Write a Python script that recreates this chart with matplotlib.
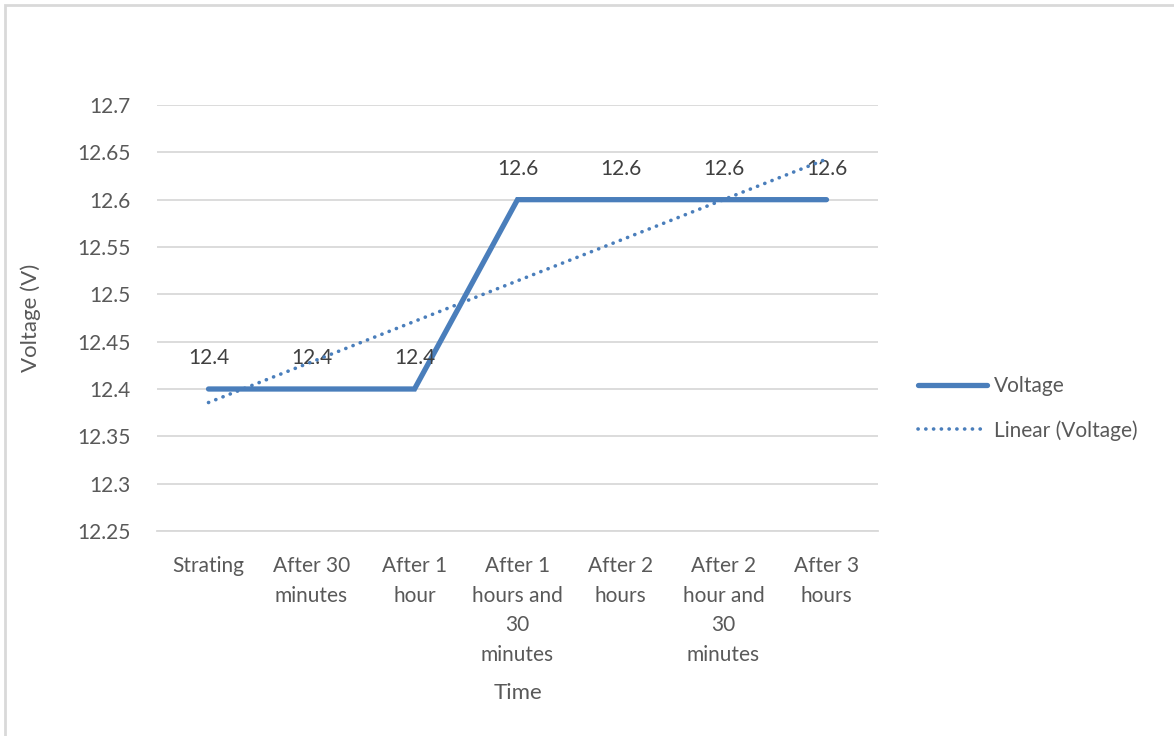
import matplotlib.pyplot as plt
import numpy as np
from matplotlib.patches import Rectangle

plt.rcParams['font.family'] = ['Lato', 'DejaVu Sans']

categories = ['Strating', 'After 30\nminutes', 'After 1\nhour',
              'After 1\nhours and\n30\nminutes', 'After 2\nhours',
              'After 2\nhour and\n30\nminutes', 'After 3\nhours']
voltage = [12.4, 12.4, 12.4, 12.6, 12.6, 12.6, 12.6]
yticks = [12.25, 12.3, 12.35, 12.4, 12.45, 12.5, 12.55, 12.6, 12.65, 12.7]

blue = '#4a7ebb'
grey = '#595959'

fig = plt.figure(figsize=(11.74, 7.36), dpi=100)
ax = fig.add_axes([157/1174, 1-531/736, 721/1174, 426/736])

x = np.arange(len(voltage)) + 0.5
ax.plot(x, voltage, color=blue, lw=3.8, solid_capstyle='round',
        solid_joinstyle='miter', label='Voltage', zorder=3)

# linear trend line like excel
k, b = np.polyfit(np.arange(1, len(voltage)+1), voltage, 1)
trend = k*np.arange(1, len(voltage)+1) + b
ax.plot(x, trend, color=blue, lw=2.6, ls=(0, (0.05, 2.1)),
        dash_capstyle='round', label='Linear (Voltage)', zorder=4)

for xi, v in zip(x, voltage):
    ax.annotate('%g' % v, (xi, v), xytext=(0, 22), textcoords='offset points',
                ha='center', va='center', fontsize=15, color='#404040')

ax.set_xlim(0, len(voltage))
ax.set_ylim(12.25, 12.7)
ax.set_yticks(yticks)
ax.set_yticklabels(['%g' % t for t in yticks])
ax.set_xticks(x)
ax.set_xticklabels(categories, linespacing=1.6)
ax.tick_params(length=0, labelsize=15, colors=grey)
ax.tick_params(axis='y', pad=19)
ax.tick_params(axis='x', pad=18)
ax.grid(axis='y', color='#d9d9d9', lw=1.3)
for s in ['top', 'right', 'left']:
    ax.spines[s].set_visible(False)
ax.spines['bottom'].set_color('#d9d9d9')
ax.spines['bottom'].set_linewidth(1.3)
ax.set_axisbelow(True)

ax.set_xlabel('Time', fontsize=16, color=grey, labelpad=13)
ax.set_ylabel('Voltage (V)', fontsize=16, color=grey, labelpad=26)

ax.legend(loc='center left', bbox_to_anchor=(1.03, 0.288), frameon=False,
          fontsize=15, labelcolor=grey, handlelength=3.3, handletextpad=0.35,
          labelspacing=1.15)

fig.patches.append(Rectangle((5/1174, -0.1), 1.2, 1-5/736+0.1,
                             transform=fig.transFigure, fill=False,
                             edgecolor='#d9d9d9', lw=2))

fig.savefig('out.png', dpi=100)
